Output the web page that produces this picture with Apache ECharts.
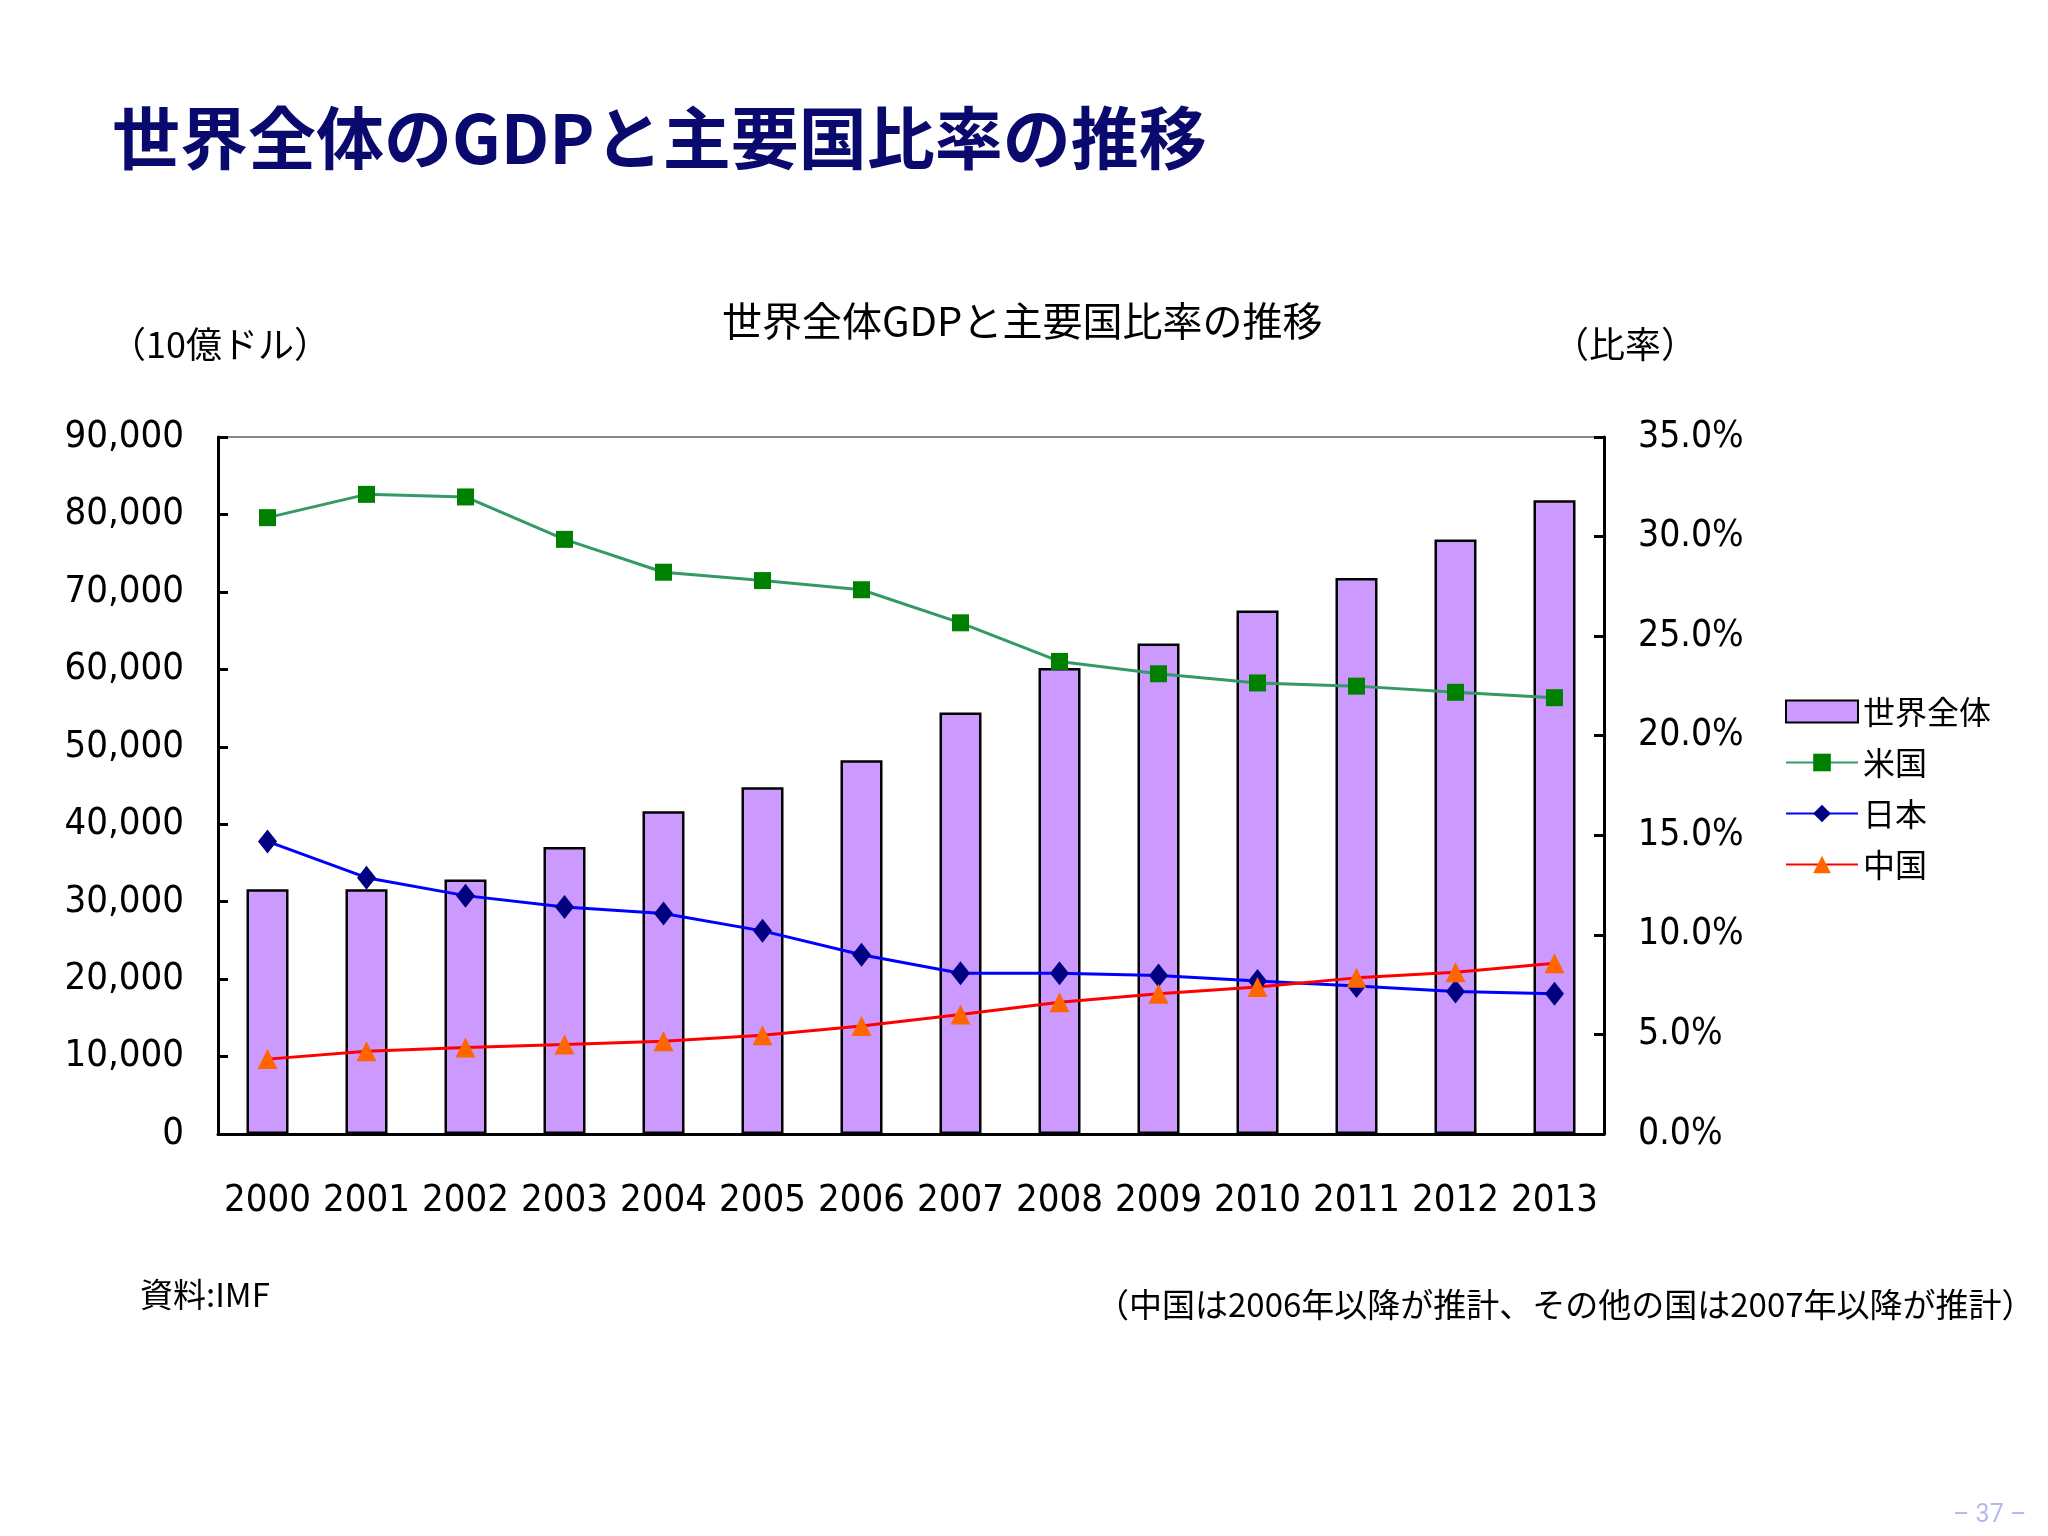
<!DOCTYPE html>
<html><head><meta charset="utf-8">
<script src="https://cdn.jsdelivr.net/npm/echarts@6/dist/echarts.min.js"></script>
<style>html,body{margin:0;padding:0;background:#fff}#c{width:2048px;height:1536px}</style>
</head><body><div id="c"></div>
<script>
const years = ['2000','2001','2002','2003','2004','2005','2006','2007','2008','2009','2010','2011','2012','2013'];
const worldGDP = [31600,31600,32850,37060,41680,44770,48270,54430,60170,63320,67600,71790,76780,81830];
const usShare = [30.95,32.12,31.99,29.86,28.21,27.79,27.33,25.67,23.73,23.11,22.65,22.49,22.18,21.91];
const japanShare = [14.69,12.87,11.97,11.40,11.07,10.20,9.00,8.07,8.07,7.96,7.68,7.43,7.15,7.04];
const chinaShare = [3.76,4.15,4.34,4.50,4.66,4.96,5.42,6.00,6.62,7.04,7.38,7.84,8.12,8.58];
const seriesNames = ['世界全体','米国','日本','中国'];

const NUM = "'DejaVu Sans Condensed','Noto Sans CJK JP',sans-serif";
const CJK = "'Noto Sans CJK JP',sans-serif";
const chart = echarts.init(document.getElementById('c'));
chart.setOption({
  backgroundColor:'#ffffff',
  animation:false,
  grid:{left:218,right:444,top:437,bottom:402,show:true,borderColor:'#888888',borderWidth:2,backgroundColor:'transparent'},
  legend:{
    orient:'vertical',left:1780,top:690,itemWidth:72,itemHeight:22,itemGap:18,
    textStyle:{fontSize:32,color:'#000',fontFamily:CJK,lineHeight:33},
    data:[{name:seriesNames[0],icon:'rect'},seriesNames[1],seriesNames[2],seriesNames[3]]
  },
  xAxis:{type:'category',data:years,
    axisLine:{lineStyle:{color:'#000',width:3}},
    axisTick:{inside:true,length:14,lineStyle:{color:'#000',width:3}},
    axisLabel:{interval:0,fontSize:38,color:'#000',fontFamily:NUM,margin:48}},
  yAxis:[
    {type:'value',min:0,max:90000,interval:10000,
     axisLine:{show:true,lineStyle:{color:'#000',width:3}},
     axisTick:{show:true,inside:true,length:10,lineStyle:{color:'#000',width:3}},
     splitLine:{show:false},
     axisLabel:{fontSize:38,color:'#000',fontFamily:NUM,margin:34,
       formatter:v=>v.toLocaleString('en-US')}},
    {type:'value',min:0,max:35,interval:5,position:'right',
     axisLine:{show:true,lineStyle:{color:'#000',width:3}},
     axisTick:{show:true,inside:true,length:10,lineStyle:{color:'#000',width:3}},
     splitLine:{show:false},
     axisLabel:{fontSize:37,color:'#000',fontFamily:NUM,margin:34,
       formatter:v=>v.toFixed(1)+'%'}}
  ],
  series:[
    {name:seriesNames[0],type:'bar',data:worldGDP,barWidth:42,yAxisIndex:0,
     itemStyle:{color:'#cc99ff',borderColor:'#000',borderWidth:2.5}},
    {name:seriesNames[1],type:'line',data:usShare,yAxisIndex:1,symbol:'rect',symbolSize:17,
     lineStyle:{color:'#339966',width:3},itemStyle:{color:'#008000'}},
    {name:seriesNames[2],type:'line',data:japanShare,yAxisIndex:1,symbol:'diamond',symbolSize:[19,24],
     lineStyle:{color:'#0000ff',width:3},itemStyle:{color:'#000080'}},
    {name:seriesNames[3],type:'line',data:chinaShare,yAxisIndex:1,symbol:'triangle',symbolSize:20,
     lineStyle:{color:'#ff0000',width:3},itemStyle:{color:'#ff6600'}}
  ],
  graphic:[
    {type:'text',left:112,top:104,style:{text:'世界全体のGDPと主要国比率の推移',fontSize:68,fontWeight:'bold',fill:'#0a0a6e',fontFamily:CJK}},
    {type:'text',left:722,top:301,style:{text:'世界全体GDPと主要国比率の推移',fontSize:40,fill:'#000',fontFamily:CJK}},
    {type:'text',left:110,top:326,style:{text:'（10億ドル）',fontSize:36,fill:'#000',fontFamily:CJK}},
    {type:'text',left:1553,top:326,style:{text:'（比率）',fontSize:36,fill:'#000',fontFamily:CJK}},
    {type:'text',left:140,top:1278,style:{text:'資料:IMF',fontSize:33,fill:'#000',fontFamily:CJK}},
    {type:'text',left:1096,top:1288,style:{text:'（中国は2006年以降が推計、その他の国は2007年以降が推計）',fontSize:33,fill:'#000',fontFamily:CJK}},
    {type:'text',left:1953,top:1503,style:{text:'– 37 –',fontSize:25,fill:'#b8b8ec',fontFamily:"Roboto,sans-serif"}}
  ]
});
</script></body></html>
